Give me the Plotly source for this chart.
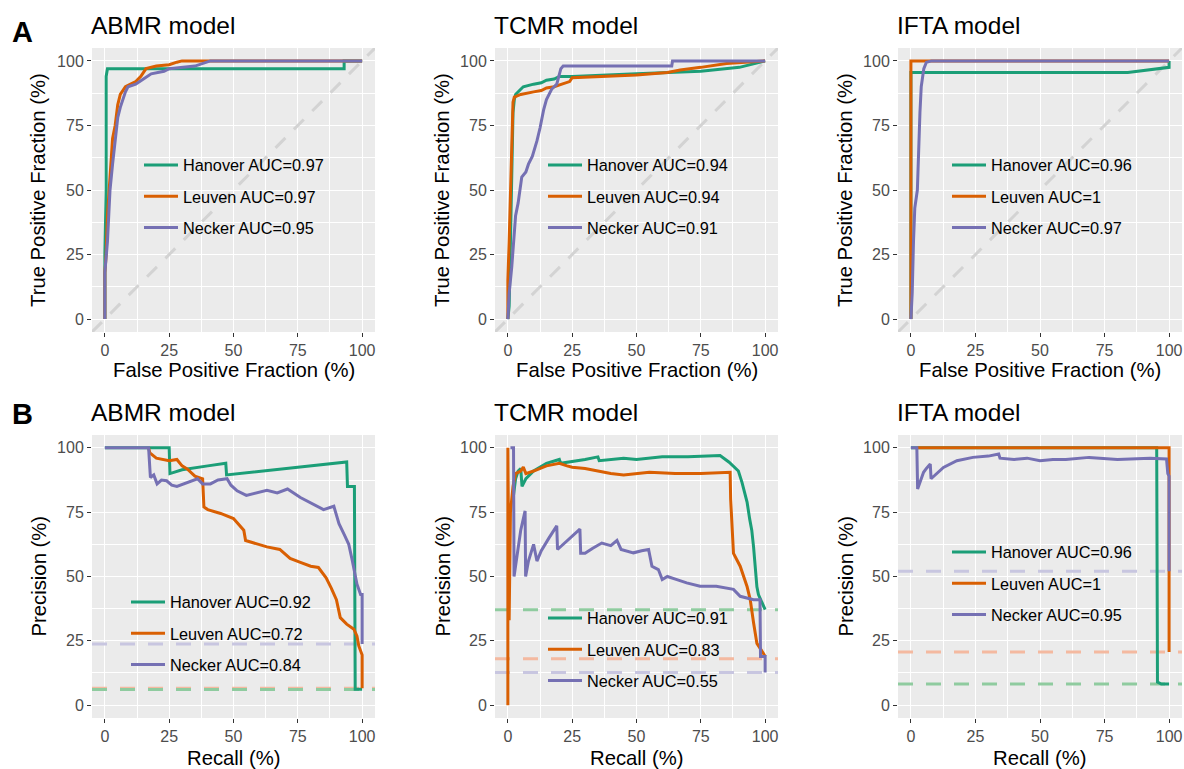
import plotly.graph_objects as go

W, H = 1184, 769

# ---------------- data ----------------
sites = ["Hanover", "Leuven", "Necker"]
colors = ["#1B9E77", "#D95F02", "#7570B3"]
baseline_colors = ["#8FCB9F", "#F4B9A0", "#C8C6E0"]

panel_titles = ["ABMR model", "TCMR model", "IFTA model", "ABMR model", "TCMR model", "IFTA model"]
roc_auc = [["0.97", "0.97", "0.95"], ["0.94", "0.94", "0.91"], ["0.96", "1", "0.97"]]
pr_auc = [["0.92", "0.72", "0.84"], ["0.91", "0.83", "0.55"], ["0.96", "1", "0.95"]]
pr_baseline = [[6.1, 6.6, 23.8], [37.1, 18.0, 12.7], [8.2, 20.7, 52.0]]
tick_vals = [0, 25, 50, 75, 100]
axis_range = [-5, 105]

# ROC: ABMR
abmr_roc_hanover_x = [0, 0, 0.5, 0.5, 1, 93, 93, 100]
abmr_roc_hanover_y = [0, 25, 50, 94, 97, 97, 100, 100]
abmr_roc_leuven_x = [0, 0, 0.5, 1, 2, 3, 4, 5, 6, 8, 10, 12, 14, 16, 20, 25, 28, 30, 40, 100]
abmr_roc_leuven_y = [0, 18, 25, 40, 55, 70, 75, 83, 87, 90, 91, 92, 94, 97, 98, 98.5, 99.5, 100, 100, 100]
abmr_roc_necker_x = [0, 0, 1, 2, 3, 4, 5, 6, 8, 9, 12, 15, 18, 23, 25, 35, 41, 100]
abmr_roc_necker_y = [0, 18, 30, 50, 60, 70, 78, 82, 88, 90, 91, 93, 95, 96, 97, 98, 100, 100]

# ROC: TCMR
tcmr_roc_hanover_x = [0, 0.5, 1, 1.5, 2, 2.5, 3, 5, 6, 10, 13, 15, 18, 20, 25, 50, 75, 90, 100]
tcmr_roc_hanover_y = [0, 5, 30, 50, 80, 85, 87, 89, 90, 91, 91.5, 92.5, 93, 94, 94, 95, 96, 97.5, 100]
tcmr_roc_leuven_x = [0, 0, 0.5, 1, 1.5, 2, 2.5, 5, 10, 13, 15, 18, 21, 24, 25, 50, 62, 67, 75, 85, 100]
tcmr_roc_leuven_y = [0, 15, 30, 50, 70, 84, 86, 87, 88, 88.5, 89.5, 90, 91, 92, 93.5, 94.5, 95.5, 96.5, 97.5, 99, 100]
tcmr_roc_necker_x = [0, 0.5, 1.5, 2.2, 3, 4, 5.4, 7, 8, 9.5, 11.3, 12.5, 13.9, 15, 17, 19, 20.6, 21.5, 63.7, 64, 100]
tcmr_roc_necker_y = [0, 10, 20, 28, 40, 45, 55, 57, 60, 63, 69, 74, 81, 85, 89, 91, 97, 98, 98, 100, 100]

# ROC: IFTA
ifta_roc_hanover_x = [0, 0, 84, 100, 100]
ifta_roc_hanover_y = [0, 95.5, 95.5, 97.5, 100]
ifta_roc_leuven_x = [0, 0, 100]
ifta_roc_leuven_y = [0, 100, 100]
ifta_roc_necker_x = [0, 0.5, 1, 1.5, 2.5, 3, 3.5, 4, 5, 6, 8, 100]
ifta_roc_necker_y = [0, 10, 30, 43, 50, 70, 80, 90, 97, 99.5, 100, 100]

# PR: ABMR
abmr_pr_hanover_x = [0, 25, 25.3, 30, 40, 47, 47.3, 60, 75, 94, 94.3, 97, 97.3, 100]
abmr_pr_hanover_y = [100, 100, 90, 91.5, 93, 94, 89.5, 91, 92.5, 94.5, 85, 85, 6.2, 6.2]
abmr_pr_leuven_x = [17, 17.5, 20, 25, 28, 30, 32, 35, 38, 38.5, 40, 45, 50, 54, 54.7, 58, 63, 68, 72, 76, 80, 83,
                    86, 88, 90, 91.5, 94, 96.8, 98, 98.7, 100, 100]
abmr_pr_leuven_y = [100, 98, 96, 95, 95.5, 93, 91.8, 89, 88, 77, 76, 74.5, 72.5, 68, 64, 63, 61.5, 60.5, 57, 55.5,
                    54, 53.5, 49.5, 45.5, 41, 34, 31.5, 29.5, 26.8, 23, 19.5, 6.6]
abmr_pr_necker_x = [0, 17, 17.7, 19, 20.3, 22, 24, 26, 28, 32, 36, 38, 41, 44, 47.5, 49, 51.4, 55, 59, 63, 67, 71,
                    76, 81, 85, 89, 91, 93, 94.8, 96, 97, 98, 99.4, 100, 100]
abmr_pr_necker_y = [100, 100, 88.5, 89.5, 86, 87.5, 87.2, 85.5, 85, 86.5, 88, 86, 86, 87.5, 88, 85.5, 83.3, 81.5,
                    82.5, 83.5, 82.5, 84, 80.7, 78, 76, 77.3, 70.5, 66.4, 62.5, 57, 52, 47, 43, 43, 23.8]

# PR: TCMR
tcmr_pr_hanover_x = [2, 3, 4, 5, 5.5, 7, 10, 15, 20, 20.5, 30, 35, 35.5, 45, 50, 60, 70, 80, 82.5, 86, 89.6, 91,
                     93, 94, 94.8, 95.5, 96, 96.8, 97.4, 100]
tcmr_pr_hanover_y = [80, 88, 91, 92, 85, 88, 91, 94, 95.5, 94, 95.5, 96.5, 95, 96, 95.5, 96.5, 96.5, 97, 97, 94.4,
                     91, 86.6, 78.8, 72.3, 68, 61.5, 54, 46, 43, 37.1]
tcmr_pr_leuven_x = [0, 0, 0.5, 1, 2, 3, 5, 6, 7, 10, 15, 20, 23, 25, 30, 40, 45, 50, 55, 65, 75, 86.4, 86.6, 87.7,
                    90.3, 93, 94.2, 95.5, 96.8, 99.4, 100]
tcmr_pr_leuven_y = [0, 100, 33, 75, 85, 90, 91, 92.5, 90, 91, 93, 94, 93, 92.5, 92, 90, 89.5, 90, 90.5, 90, 90,
                    90.5, 80, 59, 54, 46, 41, 32, 24, 20, 18.9]
tcmr_pr_necker_x = [1, 2.2, 2.4, 4, 5, 6.7, 6.9, 8, 10, 11.3, 13, 16, 19, 19.3, 22, 25, 28, 28.3, 30, 33, 36.5,
                    40, 42.4, 44, 46, 48.8, 52, 54.7, 56, 58.5, 60, 62, 65.7, 69.5, 74.7, 81, 87.7, 90.3, 95.5,
                    98, 98.2, 100, 100]
tcmr_pr_necker_y = [100, 100, 50, 62, 68, 75.5, 50, 56, 62.5, 56, 60, 65, 69.7, 60.5, 63, 66, 68.4, 59, 59, 61, 63,
                    62, 64, 60.5, 60, 59.2, 60, 60.5, 54, 52.7, 48.8, 50, 48.8, 47.5, 46.2, 46.2, 45, 42.3, 41,
                    41, 18.9, 18.9, 12.7]

# PR: IFTA
ifta_pr_hanover_x = [0, 95.2, 95.5, 97, 100]
ifta_pr_hanover_y = [100, 100, 9, 8.2, 8.2]
ifta_pr_leuven_x = [2.5, 100, 100]
ifta_pr_leuven_y = [100, 100, 20.7]
ifta_pr_necker_x = [0, 2.3, 2.6, 3.5, 4.9, 6, 7.5, 7.8, 10, 12.6, 17.8, 24, 30, 34, 34.5, 40, 45, 50, 55, 60, 69,
                    80, 92.6, 99, 99.5, 100, 100]
ifta_pr_necker_y = [100, 100, 84, 86.5, 90.5, 92, 93.7, 88, 90, 92.4, 95, 96.3, 96.8, 97.6, 96, 95.5, 96, 95,
                    95.5, 95.5, 96.3, 95.5, 96, 95.7, 90, 89, 52]

roc_curves = [
    [(abmr_roc_hanover_x, abmr_roc_hanover_y), (abmr_roc_leuven_x, abmr_roc_leuven_y), (abmr_roc_necker_x, abmr_roc_necker_y)],
    [(tcmr_roc_hanover_x, tcmr_roc_hanover_y), (tcmr_roc_leuven_x, tcmr_roc_leuven_y), (tcmr_roc_necker_x, tcmr_roc_necker_y)],
    [(ifta_roc_hanover_x, ifta_roc_hanover_y), (ifta_roc_leuven_x, ifta_roc_leuven_y), (ifta_roc_necker_x, ifta_roc_necker_y)],
]
pr_curves = [
    [(abmr_pr_hanover_x, abmr_pr_hanover_y), (abmr_pr_leuven_x, abmr_pr_leuven_y), (abmr_pr_necker_x, abmr_pr_necker_y)],
    [(tcmr_pr_hanover_x, tcmr_pr_hanover_y), (tcmr_pr_leuven_x, tcmr_pr_leuven_y), (tcmr_pr_necker_x, tcmr_pr_necker_y)],
    [(ifta_pr_hanover_x, ifta_pr_hanover_y), (ifta_pr_leuven_x, ifta_pr_leuven_y), (ifta_pr_necker_x, ifta_pr_necker_y)],
]

# ---------------- layout (pixels) ----------------
FONT = "Liberation Sans, Arial, sans-serif"
col_px = [(92, 375), (495, 778), (898, 1182)]
row_px = [(48, 332), (435, 718)]
legend_px = [(139, 148), (543, 148), (947, 148), (126, 585), (543, 601), (947, 535)]
title_y_px = [25, 412]
ytitle_x_px = [38, 442, 845]
xtitle_y_px = [370, 758]


def px_x(v):
    return v / W


def px_y(v):
    return 1 - v / H


fig = go.Figure()
layout = dict(
    width=W, height=H, margin=dict(l=0, r=0, t=0, b=0),
    paper_bgcolor="white", plot_bgcolor="#EBEBEB",
    font=dict(family=FONT, color="black"),
    showlegend=True,
)
annotations = []

for r in range(2):
    for c in range(3):
        k = r * 3 + c + 1
        sfx = "" if k == 1 else str(k)
        ax_common = dict(
            range=axis_range, tickvals=tick_vals, ticks="outside", ticklen=4, tickwidth=1.1,
            tickcolor="#333333", tickfont=dict(size=16, color="#4D4D4D", family=FONT),
            showgrid=True, gridcolor="white", gridwidth=1.2, zeroline=False, showline=False,
            minor=dict(dtick=12.5, tick0=0, showgrid=True, gridcolor="white", gridwidth=0.6),
            fixedrange=True,
        )
        layout["xaxis" + sfx] = dict(ax_common, domain=[px_x(col_px[c][0]), px_x(col_px[c][1])],
                                     anchor="y" + sfx)
        layout["yaxis" + sfx] = dict(ax_common, domain=[px_y(row_px[r][1]), px_y(row_px[r][0])],
                                     anchor="x" + sfx)
        xref = "x" + sfx
        yref = "y" + sfx
        leg = "legend" + sfx

        if r == 0:
            # chance diagonal reference line across the full panel
            fig.add_trace(go.Scatter(x=axis_range, y=axis_range, mode="lines", xaxis=xref, yaxis=yref,
                                     line=dict(color="#D3D3D3", width=3, dash="14px,12px"),
                                     showlegend=False, hoverinfo="skip"))
            curves = roc_curves[c]
            aucs = roc_auc[c]
        else:
            for i in (1, 0, 2):
                fig.add_trace(go.Scatter(x=axis_range, y=[pr_baseline[c][i]] * 2, mode="lines",
                                         xaxis=xref, yaxis=yref,
                                         line=dict(color=baseline_colors[i], width=3, dash="15px,13px"),
                                         showlegend=False, hoverinfo="skip"))
            curves = pr_curves[c]
            aucs = pr_auc[c]

        for i in range(3):
            xs, ys = curves[i]
            fig.add_trace(go.Scatter(
                x=xs, y=ys, mode="lines", xaxis=xref, yaxis=yref,
                line=dict(color=colors[i], width=3),
                name=f"{sites[i]} AUC={aucs[i]}",
                legend=leg, legendgroup=f"g{k}_{i}", showlegend=True,
            ))

        lx, ly = legend_px[k - 1]
        layout[leg] = dict(
            x=px_x(lx), y=px_y(ly), xanchor="left", yanchor="top", xref="paper", yref="paper",
            bgcolor="rgba(0,0,0,0)", borderwidth=0, font=dict(size=16.3, family=FONT, color="black"),
            tracegroupgap=7, itemwidth=34,
        )

        # panel title
        annotations.append(dict(text=panel_titles[k - 1], x=px_x(col_px[c][0] - 3), y=px_y(title_y_px[r]),
                                xref="paper", yref="paper", xanchor="left", yanchor="middle",
                                showarrow=False, font=dict(size=24.5, family=FONT, color="black")))
        # axis titles
        xt = "False Positive Fraction (%)" if r == 0 else "Recall (%)"
        yt = "True Positive Fraction (%)" if r == 0 else "Precision (%)"
        annotations.append(dict(text=xt, x=px_x((col_px[c][0] + col_px[c][1]) / 2), y=px_y(xtitle_y_px[r]),
                                xref="paper", yref="paper", xanchor="center", yanchor="middle",
                                showarrow=False, font=dict(size=20.3, family=FONT, color="black")))
        annotations.append(dict(text=yt, x=px_x(ytitle_x_px[c]), y=px_y((row_px[r][0] + row_px[r][1]) / 2),
                                xref="paper", yref="paper", xanchor="center", yanchor="middle", textangle=-90,
                                showarrow=False, font=dict(size=20.3, family=FONT, color="black")))

# panel letters
for lab, yy in (("A", 32), ("B", 414)):
    annotations.append(dict(text=f"<b>{lab}</b>", x=px_x(10), y=px_y(yy), xref="paper", yref="paper",
                            xanchor="left", yanchor="middle", showarrow=False,
                            font=dict(size=29, family=FONT, color="black")))

layout["annotations"] = annotations
fig.update_layout(**layout)
fig.write_html("out.html", config={"displayModeBar": False},
               post_script="document.body.style.margin='0px';")
